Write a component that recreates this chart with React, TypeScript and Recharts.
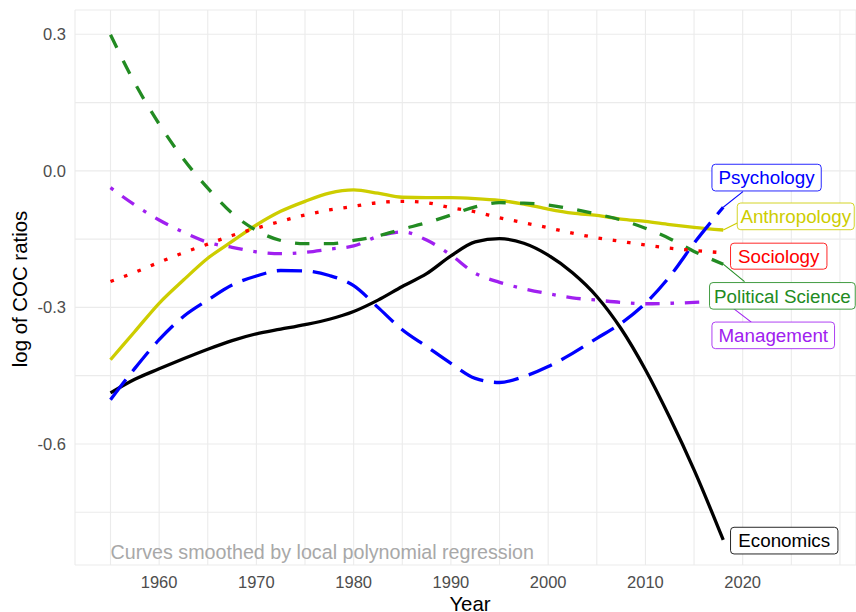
import React from 'react';
import { LineChart, Line, XAxis, YAxis, CartesianGrid, ReferenceDot, Label } from 'recharts';

const FONT = '"Liberation Sans", Arial, Helvetica, sans-serif';

// ---- data ----
const years = [1955, 1957.5, 1960, 1962.5, 1965, 1967.5, 1970, 1972.5, 1975, 1977.5, 1980, 1982.5, 1985, 1987.5, 1990, 1992.5, 1995, 1997.5, 2000, 2002.5, 2005, 2007.5, 2010, 2012.5, 2015, 2018];

const anthropology = [-0.415, -0.353, -0.291, -0.240, -0.192, -0.155, -0.119, -0.089, -0.067, -0.049, -0.042, -0.049, -0.058, -0.059, -0.059, -0.061, -0.065, -0.073, -0.084, -0.093, -0.098, -0.106, -0.111, -0.118, -0.124, -0.130];
const economics = [-0.488, -0.458, -0.435, -0.413, -0.392, -0.373, -0.358, -0.348, -0.338, -0.326, -0.309, -0.284, -0.254, -0.226, -0.187, -0.156, -0.149, -0.159, -0.185, -0.224, -0.276, -0.347, -0.437, -0.542, -0.657, -0.811];
const management = [-0.037, -0.075, -0.108, -0.135, -0.157, -0.168, -0.178, -0.182, -0.179, -0.172, -0.165, -0.144, -0.134, -0.152, -0.185, -0.225, -0.245, -0.259, -0.270, -0.279, -0.284, -0.289, -0.292, -0.291, -0.289, -0.285];
const politicalScience = [0.299, 0.193, 0.103, 0.026, -0.038, -0.093, -0.131, -0.153, -0.160, -0.160, -0.153, -0.143, -0.128, -0.114, -0.097, -0.079, -0.070, -0.071, -0.075, -0.084, -0.095, -0.108, -0.126, -0.149, -0.177, -0.205];
const psychology = [-0.503, -0.434, -0.371, -0.320, -0.284, -0.251, -0.231, -0.219, -0.220, -0.230, -0.252, -0.300, -0.349, -0.386, -0.423, -0.456, -0.465, -0.452, -0.430, -0.401, -0.368, -0.335, -0.291, -0.232, -0.159, -0.080];
const sociology = [-0.243, -0.223, -0.201, -0.180, -0.161, -0.142, -0.126, -0.111, -0.097, -0.086, -0.078, -0.070, -0.067, -0.070, -0.081, -0.090, -0.103, -0.114, -0.125, -0.137, -0.147, -0.155, -0.163, -0.170, -0.175, -0.180];

const seriesNames = ['Anthropology', 'Economics', 'Management', 'Political Science', 'Psychology', 'Sociology'];
const seriesValues = [anthropology, economics, management, politicalScience, psychology, sociology];
const seriesColors = ['#CDCD00', '#000000', '#A020F0', '#228B22', '#0000FF', '#FF0000'];
const seriesDash = ['', '', '3.6 10.8 14.4 10.8', '14.4 14.4', '25.2 10.8', '3.6 10.8'];

const xTicks = [1955, 1960, 1965, 1970, 1975, 1980, 1985, 1990, 1995, 2000, 2005, 2010, 2015, 2020, 2025, 2030];
const xTickLabels = ['1960', '1970', '1980', '1990', '2000', '2010', '2020'];
const yTicks = [-0.75, -0.6, -0.45, -0.3, -0.15, 0, 0.15, 0.3];
const yTickLabels = ['-0.6', '-0.3', '0.0', '0.3'];

const captionText = 'Curves smoothed by local polynomial regression';
const captionYear = 1955;
const captionValue = -0.838;

// label layout (ggrepel-like boxes, pixel offsets from each series' end point)
const labelLayout: Record<string, { dx: number; dy: number; w: number; h: number; seg?: [number, number] }> = {
  'Management': { dx: -11.3, dy: 21.5, w: 122.6, h: 26.6, seg: [28, 21.5] },
  'Economics': { dx: 7.3, dy: -12.7, w: 107.4, h: 26.7 },
  'Sociology': { dx: 7.3, dy: -9.6, w: 96.4, h: 26 },
  'Psychology': { dx: -11.3, dy: -43, w: 109.3, h: 26.7, seg: [19.7, -15.7] },
  'Anthropology': { dx: 14, dy: -27, w: 117, h: 26.7, seg: [14, -7] },
  'Political Science': { dx: -13.7, dy: 18.4, w: 145.7, h: 26.6, seg: [21.3, 17.4] },
};
const labelOrder = ['Management', 'Economics', 'Sociology', 'Psychology', 'Anthropology', 'Political Science'];

const data = years.map((year, i) => {
  const row: Record<string, number> = { year };
  seriesNames.forEach((n, k) => { row[n] = seriesValues[k][i]; });
  return row;
});

const fmtX = (v: number) => (xTickLabels.includes(String(v)) ? String(v) : '');
const fmtY = (v: number) => {
  const s = (Math.abs(v) < 1e-9 ? 0 : v).toFixed(1);
  return yTickLabels.includes(s) && Math.abs(v * 10 - Math.round(v * 10)) < 1e-6 && Math.abs(Math.round(v * 10)) % 3 === 0 ? s : '';
};

const XTitle = (props: any) => {
  const vb = props.viewBox || { x: 75, y: 565, width: 781, height: 47 };
  return (
    <text x={vb.x + vb.width / 2 + 4.5} y={vb.y + vb.height - 1} textAnchor="middle" fontSize={20.4} fill="#000" fontFamily={FONT}>
      Year
    </text>
  );
};

const YTitle = (props: any) => {
  const vb = props.viewBox || { x: 0, y: 10, width: 75, height: 555 };
  const cx = vb.x + 27;
  const cy = vb.y + vb.height / 2 + 1.5;
  return (
    <text x={cx} y={cy} transform={`rotate(-90 ${cx} ${cy})`} textAnchor="middle" fontSize={20.4} fill="#000" fontFamily={FONT}>
      log of COC ratios
    </text>
  );
};

const makeEndLabel = (name: string, color: string) => (props: any) => {
  const { cx, cy } = props;
  if (cx == null || cy == null) return <g />;
  const L = labelLayout[name];
  const x = cx + L.dx;
  const y = cy + L.dy;
  return (
    <g>
      {L.seg && <line x1={cx} y1={cy} x2={cx + L.seg[0]} y2={cy + L.seg[1]} stroke={color} strokeWidth={1.1} />}
      <rect x={x} y={y} width={L.w} height={L.h} rx={3.5} ry={3.5} fill="#fff" stroke={color} strokeOpacity={0.85} strokeWidth={1} />
      <text x={x + L.w / 2} y={y + L.h / 2 + 6.7} textAnchor="middle" fontSize={18.8} fill={color} fontFamily={FONT}>
        {name}
      </text>
    </g>
  );
};

const Caption = (props: any) => {
  const { cx, cy } = props;
  if (cx == null || cy == null) return <g />;
  return (
    <text x={cx} y={cy + 7} textAnchor="start" fontSize={19.7} fill="#A8A8A8" fontFamily={FONT}>
      {captionText}
    </text>
  );
};

export default function App() {
  const tickStyle = { fill: '#4D4D4D', fontSize: 16.5, fontFamily: FONT };
  return (
    <div style={{ position: 'absolute', left: 0, top: 0, width: 856, height: 612, background: '#fff' }}>
      <LineChart width={856} height={612} data={data} margin={{ top: 10, right: 0, bottom: 0, left: 0 }}>
        <CartesianGrid stroke="#EBEBEB" strokeWidth={1.1} />
        <XAxis
          type="number"
          dataKey="year"
          domain={[1951.35, 2031.65]}
          allowDataOverflow
          ticks={xTicks}
          interval={0}
          tickFormatter={fmtX}
          axisLine={false}
          tickLine={false}
          tickSize={0}
          tickMargin={11}
          height={47}
          tick={tickStyle}
        >
          <Label content={XTitle} />
        </XAxis>
        <YAxis
          type="number"
          domain={[-0.866, 0.3534]}
          allowDataOverflow
          ticks={yTicks}
          interval={0}
          tickFormatter={fmtY}
          width={75}
          axisLine={false}
          tickLine={false}
          tickSize={0}
          tickMargin={9}
          tick={tickStyle}
        >
          <Label content={YTitle} />
        </YAxis>
        {seriesNames.map((n, k) => (
          <Line
            key={n}
            type="monotone"
            dataKey={n}
            stroke={seriesColors[k]}
            strokeWidth={3.3}
            strokeDasharray={seriesDash[k] || undefined}
            strokeLinecap="butt"
            dot={false}
            activeDot={false}
            isAnimationActive={false}
          />
        ))}
        <ReferenceDot x={captionYear} y={captionValue} r={1} ifOverflow="visible" shape={Caption} />
        {labelOrder.map((n) => {
          const k = seriesNames.indexOf(n);
          const vals = seriesValues[k];
          return (
            <ReferenceDot
              key={'lbl-' + n}
              x={years[years.length - 1]}
              y={vals[vals.length - 1]}
              r={1}
              ifOverflow="visible"
              shape={makeEndLabel(n, seriesColors[k])}
            />
          );
        })}
      </LineChart>
    </div>
  );
}
